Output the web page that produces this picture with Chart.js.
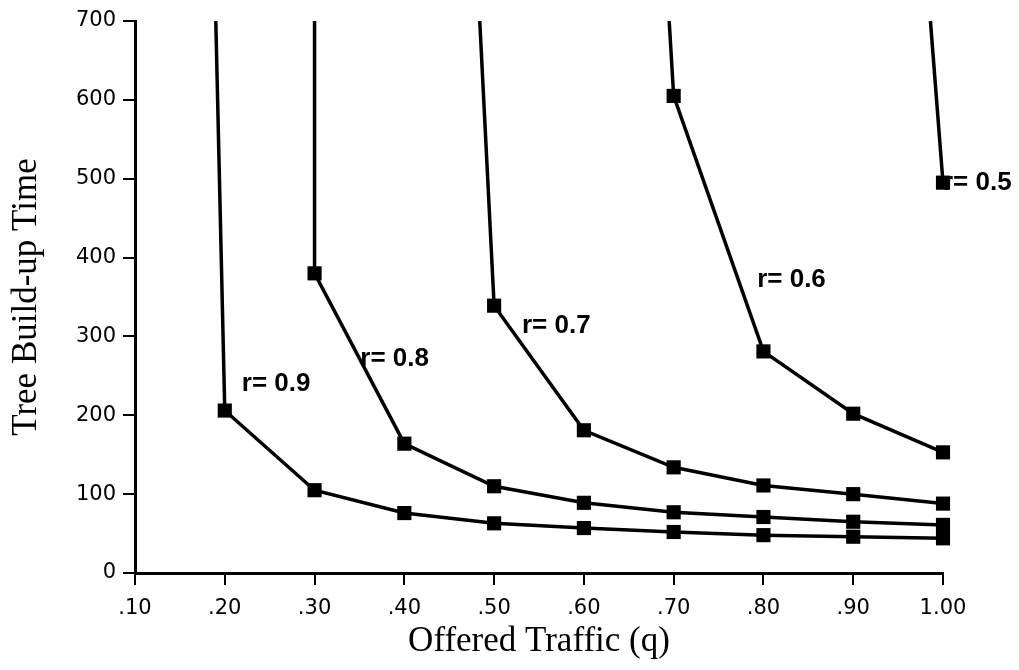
<!DOCTYPE html>
<html>
<head>
<meta charset="utf-8">
<script src="https://cdn.jsdelivr.net/npm/chart.js@4"></script>
<style>
  html, body { margin: 0; padding: 0; background: #fff; }
  #wrap { width: 1019px; height: 670px; }
</style>
</head>
<body>
<div id="wrap"><canvas id="treeChart" width="1019" height="670"></canvas></div>
<script>
// offered traffic values where the measured points sit
const qPoints = [0.20, 0.30, 0.40, 0.50, 0.60, 0.70, 0.80, 0.90, 1.00];

// tree build-up time per curve (first value is at the curve's first q)
const r09 = [206, 105, 76, 63, 57, 52, 48, 46, 44];
const r08 = [380, 164, 110, 89, 77, 71, 65, 61];
const r07 = [339, 181, 134, 111, 100, 88];
const r06 = [605, 281, 202, 153];
const r05 = [495];

// each curve comes down from the top of the plot (700) at about this q
const topQ = [0.19, 0.30, 0.484, 0.695, 0.986];
const topValue = 700;

const curveNames = ['r= 0.9', 'r= 0.8', 'r= 0.7', 'r= 0.6', 'r= 0.5'];
// where the curve names are written (q, time)
const nameQ = [0.219, 0.351, 0.531, 0.793, 1.0];
const nameT = [240, 271, 314, 372, 495];

const xTickValues = [0.1, 0.2, 0.3, 0.4, 0.5, 0.6, 0.7, 0.8, 0.9, 1.0];
const xTickLabels = ['.10', '.20', '.30', '.40', '.50', '.60', '.70', '.80', '.90', '1.00'];
const yTickValues = [0, 100, 200, 300, 400, 500, 600, 700];

// build {x,y} points: the top point, then the measured ones at the end of qPoints
function buildCurve(index, values) {
    let pts = [{ x: topQ[index], y: topValue }];
    let offset = qPoints.length - values.length;
    values.forEach((v, i) => {
        pts.push({ x: qPoints[offset + i], y: v });
    });
    return pts;
}

const allCurves = [r09, r08, r07, r06, r05];

let datasets = allCurves.map((vals, i) => ({
    label: curveNames[i],
    data: buildCurve(i, vals),
    borderColor: '#000',
    borderWidth: 3.5,
    backgroundColor: '#000',
    pointStyle: 'rect',
    pointBackgroundColor: '#000',
    pointBorderColor: '#000',
    pointBorderWidth: 0,
    pointRadius: (c) => c.dataIndex === 0 ? 0 : 10,
    tension: 0,
    fill: false,
    clip: false
}));

// write the "r= ..." names on the plot, under the lines and markers
const curveNamePlugin = {
    id: 'curveNames',
    beforeDatasetsDraw(chart) {
        const ctx = chart.ctx;
        const xs = chart.scales.x;
        const ys = chart.scales.y;
        ctx.save();
        ctx.font = 'bold 26px "Liberation Sans", Arial, sans-serif';
        ctx.fillStyle = '#000';
        ctx.textAlign = 'left';
        ctx.textBaseline = 'middle';
        curveNames.forEach((name, i) => {
            ctx.fillText(name, xs.getPixelForValue(nameQ[i]), ys.getPixelForValue(nameT[i]));
        });
        ctx.restore();
    }
};

const tickFont = { family: '"DejaVu Sans", sans-serif', size: 21 };
const titleFont = { family: '"Liberation Serif", "Times New Roman", serif', size: 35 };

new Chart(document.getElementById('treeChart'), {
    type: 'line',
    data: { datasets: datasets },
    options: {
        responsive: false,
        animation: false,
        devicePixelRatio: 1,
        layout: { padding: { left: 0, top: 21, right: 76, bottom: 0 } },
        plugins: {
            legend: { display: false },
            tooltip: { enabled: false }
        },
        scales: {
            x: {
                type: 'linear',
                min: 0.1,
                max: 1.0,
                afterBuildTicks: (scale) => { scale.ticks = xTickValues.map(v => ({ value: v })); },
                afterFit: (scale) => { scale.height = 97; },
                ticks: {
                    autoSkip: false,
                    maxRotation: 0,
                    color: '#000',
                    font: tickFont,
                    padding: 11,
                    callback: (value, index) => xTickLabels[index]
                },
                grid: { drawOnChartArea: false, drawTicks: true, tickLength: 12, color: '#000', lineWidth: 2 },
                border: { display: true, color: '#000', width: 3 },
                title: { display: true, text: 'Offered Traffic (q)', color: '#000', font: titleFont, padding: { top: 0, bottom: 7 } }
            },
            y: {
                type: 'linear',
                min: 0,
                max: 700,
                afterBuildTicks: (scale) => { scale.ticks = yTickValues.map(v => ({ value: v })); },
                afterFit: (scale) => { scale.width = 135; },
                ticks: {
                    color: '#000',
                    font: tickFont,
                    padding: 7,
                    callback: (value) => String(value)
                },
                grid: { drawOnChartArea: false, drawTicks: true, tickLength: 12, color: '#000', lineWidth: 2 },
                border: { display: true, color: '#000', width: 3 },
                title: { display: true, text: 'Tree Build-up Time', color: '#000', font: titleFont, padding: { top: 6, bottom: 0 } }
            }
        }
    },
    plugins: [curveNamePlugin]
});
</script>
</body>
</html>
